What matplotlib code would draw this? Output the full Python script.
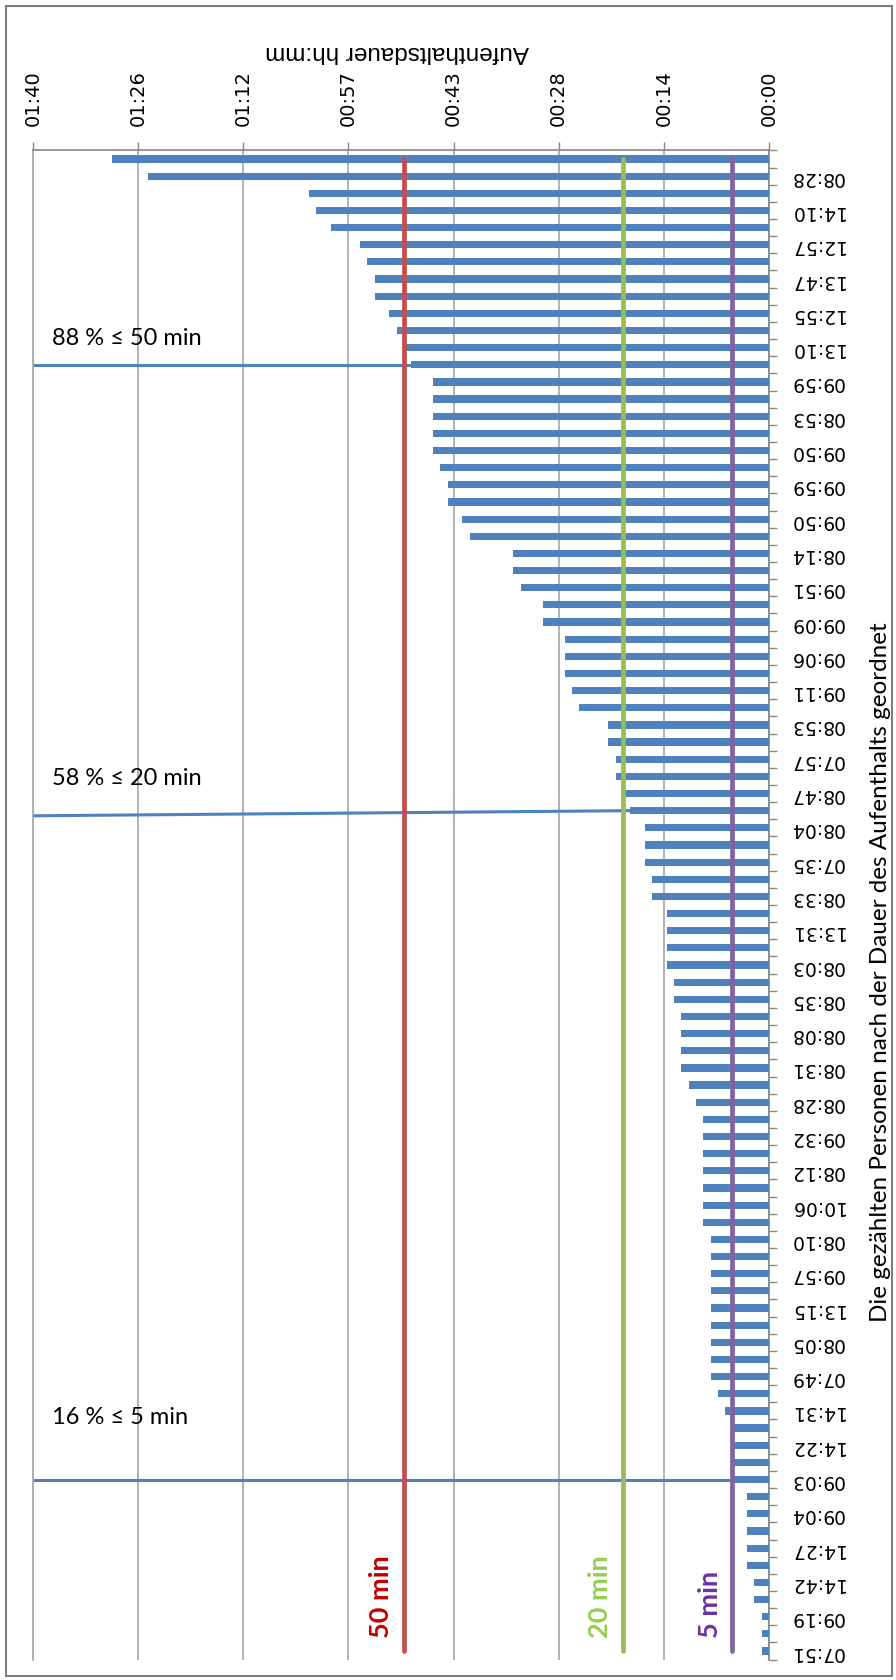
"""Aufenthaltsdauer der gezählten Personen, sortiert nach Dauer (gedrehtes Balkendiagramm)."""
import numpy as np
import matplotlib
matplotlib.use("Agg")
import matplotlib.pyplot as plt
from matplotlib.patches import Rectangle

# Aufenthaltsdauer je Person in Minuten, absteigend sortiert
minutes = [
    90, 85, 63, 62, 60, 56, 55, 54, 54, 52, 51, 50, 49,
    46, 46, 46, 46, 46, 45, 44, 44, 42, 41, 35, 35, 34, 31, 31,
    28, 28, 28, 27, 26, 22, 22, 21, 21, 20, 19,
    17, 17, 17, 16, 16, 14, 14, 14, 14, 13, 13, 12, 12, 12, 12,
    11, 10, 9, 9, 9, 9, 9, 9, 9,
    8, 8, 8, 8, 8, 8, 8, 8, 8, 7, 6,
    5, 5, 5, 5, 3, 3, 3, 3, 3, 2, 2, 1, 1, 1,
]
# Ankunftszeiten, beschriftet ist nur jede zweite Person
arrival_labels = [
    "08:28", "14:10", "12:57", "13:47", "12:55", "13:10", "09:59", "08:53",
    "09:50", "09:59", "09:50", "08:14", "09:51", "09:09", "09:06", "09:11",
    "08:53", "07:57", "08:47", "08:04", "07:35", "08:33", "13:31", "08:03",
    "08:35", "08:08", "08:31", "08:28", "09:32", "08:12", "10:06", "08:10",
    "09:57", "13:15", "08:05", "07:49", "14:31", "14:22", "09:03", "09:04",
    "14:27", "14:42", "09:19", "07:51",
]
thresholds = [50, 20, 5]
shares = [88, 58, 16]
share_rows = [12, 38, 77]          # Person, an der die Markierungslinie ansetzt
threshold_line_colors = ["#C0504D", "#9BBB59", "#8064A2"]
threshold_text_colors = ["#C00000", "#92D050", "#7030A0"]

BAR = "#4F81BD"
GRID = "#A6A6A6"
AXIS = "#868686"
X_MAX = 100.8                       # 0,07 Tage = 01:40
X_STEP = 14.4                       # 0,01 Tage

W, H = 896, 1681
fig = plt.figure(figsize=(W / 100, H / 100), dpi=100)
ax = fig.add_axes([33 / W, 1 - 1660.6 / H, (769 - 33) / W, (1660.6 - 151.4) / H])

n = len(minutes)
rows = np.arange(n)
ax.barh(rows, minutes, height=0.42, color=BAR, zorder=3)

ax.set_xlim(X_MAX, 0)
ax.set_ylim(n - 0.5, -0.5)


def hhmm(v, pos=None):
    m = int(v + 1e-6)
    return f"{m // 60:02d}:{m % 60:02d}"


# Werteachse oben, Beschriftung senkrecht
xt = np.arange(0, X_MAX + 0.01, X_STEP)
ax.set_xticks(xt)
ax.xaxis.tick_top()
ax.xaxis.set_major_formatter(matplotlib.ticker.FuncFormatter(hhmm))
ax.tick_params(axis="x", direction="out", length=6, width=1, color=AXIS,
               pad=12, labelsize=14, labelrotation=90)
for lbl in ax.get_xticklabels():
    lbl.set_family("DejaVu Sans")
ax.grid(axis="x", color=GRID, lw=1.2, zorder=0)

# Kategorienachse rechts, Text auf dem Kopf
ax.yaxis.tick_right()
ax.set_yticks(rows[1::2])
ax.set_yticklabels(arrival_labels)
ax.set_yticks(np.arange(-0.5, n, 1.0), minor=True)
ax.tick_params(axis="y", which="major", length=0, pad=15, labelsize=13.5)
ax.tick_params(axis="y", which="minor", direction="out", length=5.5, width=1, color=AXIS)
for lbl in ax.get_yticklabels():
    lbl.set_rotation(180)
    lbl.set_va("center")
    lbl.set_family("DejaVu Sans")

for side in ("top", "right", "left"):
    ax.spines[side].set_color(AXIS if side != "left" else GRID)
    ax.spines[side].set_linewidth(1.2)
ax.spines["bottom"].set_visible(False)

# Senkrechte Schwellenlinien mit Beschriftung
for thr, lc, tc in zip(thresholds, threshold_line_colors, threshold_text_colors):
    ax.plot([thr, thr], [0, n - 1], color=lc, lw=3.4, solid_capstyle="round", zorder=4)
    ax.annotate(f"{thr} min", xy=(thr, n - 1), xytext=(-16.5, 10),
                textcoords="offset points", rotation=90, ha="center", va="bottom",
                color=tc, fontsize=19.5, fontweight="bold", family=["Lato", "DejaVu Sans"])

# Waagerechte Markierung: Anteil der Personen bis zur Schwelle
tilts = [0.0, 0.3, 0.0]
text_lift = [15, 23, 41]
for pct, thr, r, tilt, lift in zip(shares, thresholds, share_rows, tilts, text_lift):
    ax.plot([X_MAX, minutes[r]], [r + tilt, r], color=BAR, lw=2.2,
            solid_capstyle="butt", zorder=2, clip_on=False)
    ax.annotate(f"{pct} % ≤ {thr} min", xy=(X_MAX, r + tilt), xytext=(14, lift),
                textcoords="offset points", ha="left", va="baseline",
                fontsize=17, color="black", family=["Lato", "DejaVu Sans"])

fig.text(397 / W, 1 - 52 / H, "Aufenthaltsdauer hh:mm", rotation=180,
         ha="center", va="center", fontsize=17.5, family="Liberation Sans")
fig.text(880 / W, 1 - 972 / H,
         "Die gezählten Personen nach der Dauer des Aufenthalts geordnet",
         rotation=90, ha="center", va="center", fontsize=17.5,
         family=["Lato", "DejaVu Sans"])

# Rahmen um das Diagramm
fig.patches.append(Rectangle((6 / W, 4 / H), 886 / W, 1670 / H, transform=fig.transFigure,
                             fill=False, edgecolor="#7F7F7F", lw=1.5))

fig.savefig("out.png", dpi=100, facecolor="white")
